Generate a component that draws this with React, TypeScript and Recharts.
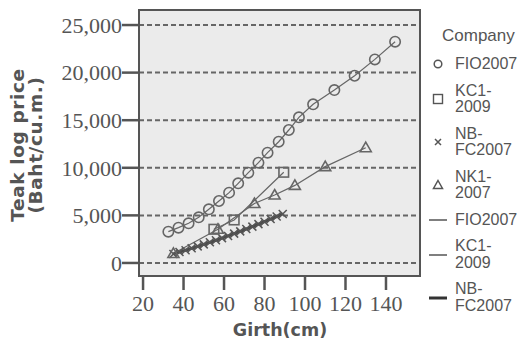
import React from "react"
import { ComposedChart, Line, XAxis, YAxis, CartesianGrid, ReferenceArea } from "recharts"

// girth (cm) and price (Baht/cu.m.) per company
const fioGirth = [32.5, 37.5, 42.5, 47.5, 52.5, 57.5, 62.5, 67, 72, 77, 81.5, 87, 92, 97, 104, 114.5, 124.5, 134.5, 144.5]
const fioPrice = [3290, 3710, 4170, 4800, 5640, 6510, 7390, 8370, 9490, 10540, 11590, 12740, 13970, 15300, 16670, 18170, 19670, 21390, 23250]

const kcGirth = [55, 65, 89.5]
const kcPrice = [3540, 4520, 9530]

const nbGirth = [35, 38, 41, 44, 47, 50, 53, 56, 59, 62, 65, 68, 71, 74, 77, 80, 83, 86, 89]
const nbPrice = [950, 1150, 1340, 1540, 1740, 1950, 2170, 2390, 2610, 2840, 3080, 3320, 3570, 3820, 4080, 4340, 4610, 4880, 5150]

const nkGirth = [35, 57, 75, 85, 95, 110, 130]
const nkPrice = [1000, 3540, 6250, 7140, 8150, 10120, 12110]

const xTicks = [20, 40, 60, 80, 100, 120, 140]
const yTicks = [0, 5000, 10000, 15000, 20000, 25000]

const legendTitle = "Company"
const legendItems = [
  { lines: ["FIO2007"], kind: "circle" },
  { lines: ["KC1-", "2009"], kind: "square" },
  { lines: ["NB-", "FC2007"], kind: "cross" },
  { lines: ["NK1-", "2007"], kind: "triangle" },
  { lines: ["FIO2007"], kind: "thin" },
  { lines: ["KC1-", "2009"], kind: "thin" },
  { lines: ["NB-", "FC2007"], kind: "thick" },
]

const zip = (g: number[], p: number[]) => g.map((x, i) => ({ g: x, p: p[i] }))

const MARK = "#666"
const INK = "#555"
const X_DOMAIN = [18, 156.8]
const Y_DOMAIN = [-1370, 26580]

const circleDot = (p: any) => (
  <circle key={`c${p.index}`} cx={p.cx} cy={p.cy} r={5.2} fill="none" stroke={MARK} strokeWidth={1.6} />
)
const squareDot = (p: any) => (
  <rect key={`s${p.index}`} x={p.cx - 4.8} y={p.cy - 4.8} width={9.6} height={9.6} fill="none" stroke={MARK} strokeWidth={1.6} />
)
const triDot = (p: any) => (
  <path key={`t${p.index}`} d={`M${p.cx},${p.cy - 5.5}L${p.cx + 5.5},${p.cy + 4}L${p.cx - 5.5},${p.cy + 4}Z`} fill="none" stroke={MARK} strokeWidth={1.6} />
)
const crossDot = (p: any) => (
  <path key={`x${p.index}`} d={`M${p.cx - 4},${p.cy - 4}L${p.cx + 4},${p.cy + 4}M${p.cx - 4},${p.cy + 4}L${p.cx + 4},${p.cy - 4}`} stroke={INK} strokeWidth={1.5} />
)

function LegendSymbol({ kind }: { kind: string }) {
  return (
    <svg width={20} height={14} style={{ display: "block" }}>
      {kind === "circle" && <circle cx={10} cy={7} r={3.8} fill="none" stroke={INK} strokeWidth={1.5} />}
      {kind === "square" && <rect x={5.5} y={2.5} width={9} height={9} fill="none" stroke={INK} strokeWidth={1.4} />}
      {kind === "cross" && <path d="M7,4L13,10M7,10L13,4" stroke={INK} strokeWidth={1.5} />}
      {kind === "triangle" && <path d="M10,2.5L14.5,10.5L5.5,10.5Z" fill="none" stroke={INK} strokeWidth={1.5} />}
      {kind === "thin" && <line x1={1} x2={19} y1={7} y2={7} stroke={INK} strokeWidth={1.5} />}
      {kind === "thick" && <line x1={1} x2={19} y1={7} y2={7} stroke="#333" strokeWidth={3} />}
    </svg>
  )
}

const tickFont = { fontFamily: "'Liberation Serif', serif", fontSize: 22, fill: INK }
const titleFont = "'DejaVu Sans', sans-serif"

export default function App() {
  return (
    <div style={{ position: "absolute", left: 0, top: 0, width: 524, height: 343, background: "#fff" }}>
      <ComposedChart width={524} height={343} margin={{ top: 10, right: 104, bottom: 0, left: 0 }}>
        <CartesianGrid vertical={false} fill="#ebebeb" stroke={MARK} strokeWidth={2} strokeDasharray="5 3" />
        <XAxis
          type="number"
          dataKey="g"
          domain={X_DOMAIN}
          ticks={xTicks}
          allowDataOverflow
          height={67}
          axisLine={false}
          tickSize={14}
          tickMargin={5}
          tickLine={{ stroke: INK, strokeWidth: 2.5 }}
          tick={tickFont}
          label={{
            content: () => (
              <text x={280} y={336} textAnchor="middle" fontFamily={titleFont} fontWeight="bold" fontSize={17.5} fill={INK}>
                Girth(cm)
              </text>
            ),
          }}
        />
        <YAxis
          type="number"
          domain={Y_DOMAIN}
          ticks={yTicks}
          allowDataOverflow
          width={139}
          axisLine={false}
          tickSize={17}
          tickMargin={0}
          tickLine={{ stroke: INK, strokeWidth: 2.5 }}
          tick={tickFont}
          tickFormatter={(v: number) => v.toLocaleString("en-US")}
          label={{
            content: () => (
              <text transform="translate(0,145) rotate(-90)" textAnchor="middle" fontFamily={titleFont} fontWeight="bold" fontSize={18.5} fill={INK} letterSpacing={0.6}>
                <tspan x={0} y={24}>Teak log price</tspan>
                <tspan x={0} y={42}>(Baht/cu.m.)</tspan>
              </text>
            ),
          }}
        />
        <ReferenceArea x1={X_DOMAIN[0]} x2={X_DOMAIN[1]} y1={Y_DOMAIN[0]} y2={Y_DOMAIN[1]} fill="none" fillOpacity={0} stroke={INK} strokeWidth={2} ifOverflow="extendDomain" />
        <Line data={zip(nbGirth, nbPrice)} dataKey="p" type="monotone" stroke="#4a4a4a" strokeWidth={3} dot={crossDot} isAnimationActive={false} />
        <Line data={zip(nkGirth, nkPrice)} dataKey="p" type="linear" stroke={MARK} strokeWidth={1.2} dot={triDot} isAnimationActive={false} />
        <Line data={zip(kcGirth, kcPrice)} dataKey="p" type="linear" stroke={MARK} strokeWidth={1.2} dot={squareDot} isAnimationActive={false} />
        <Line data={zip(fioGirth, fioPrice)} dataKey="p" type="linear" stroke={MARK} strokeWidth={1.2} dot={circleDot} isAnimationActive={false} />
      </ComposedChart>
      <div
        style={{
          position: "absolute",
          left: 428,
          top: 27,
          fontFamily: "'Liberation Sans', Arial, sans-serif",
          color: INK,
        }}
      >
        <div style={{ fontSize: 17, lineHeight: "18px", marginLeft: 14, marginBottom: 11 }}>{legendTitle}</div>
        {legendItems.map((it, i) => (
          <div key={i} style={{ display: "flex", alignItems: "center", marginBottom: 10 }}>
            <LegendSymbol kind={it.kind} />
            <div style={{ marginLeft: 7, fontSize: 16, lineHeight: "16.5px" }}>
              {it.lines.map((l, j) => (
                <div key={j}>{l}</div>
              ))}
            </div>
          </div>
        ))}
      </div>
    </div>
  )
}
